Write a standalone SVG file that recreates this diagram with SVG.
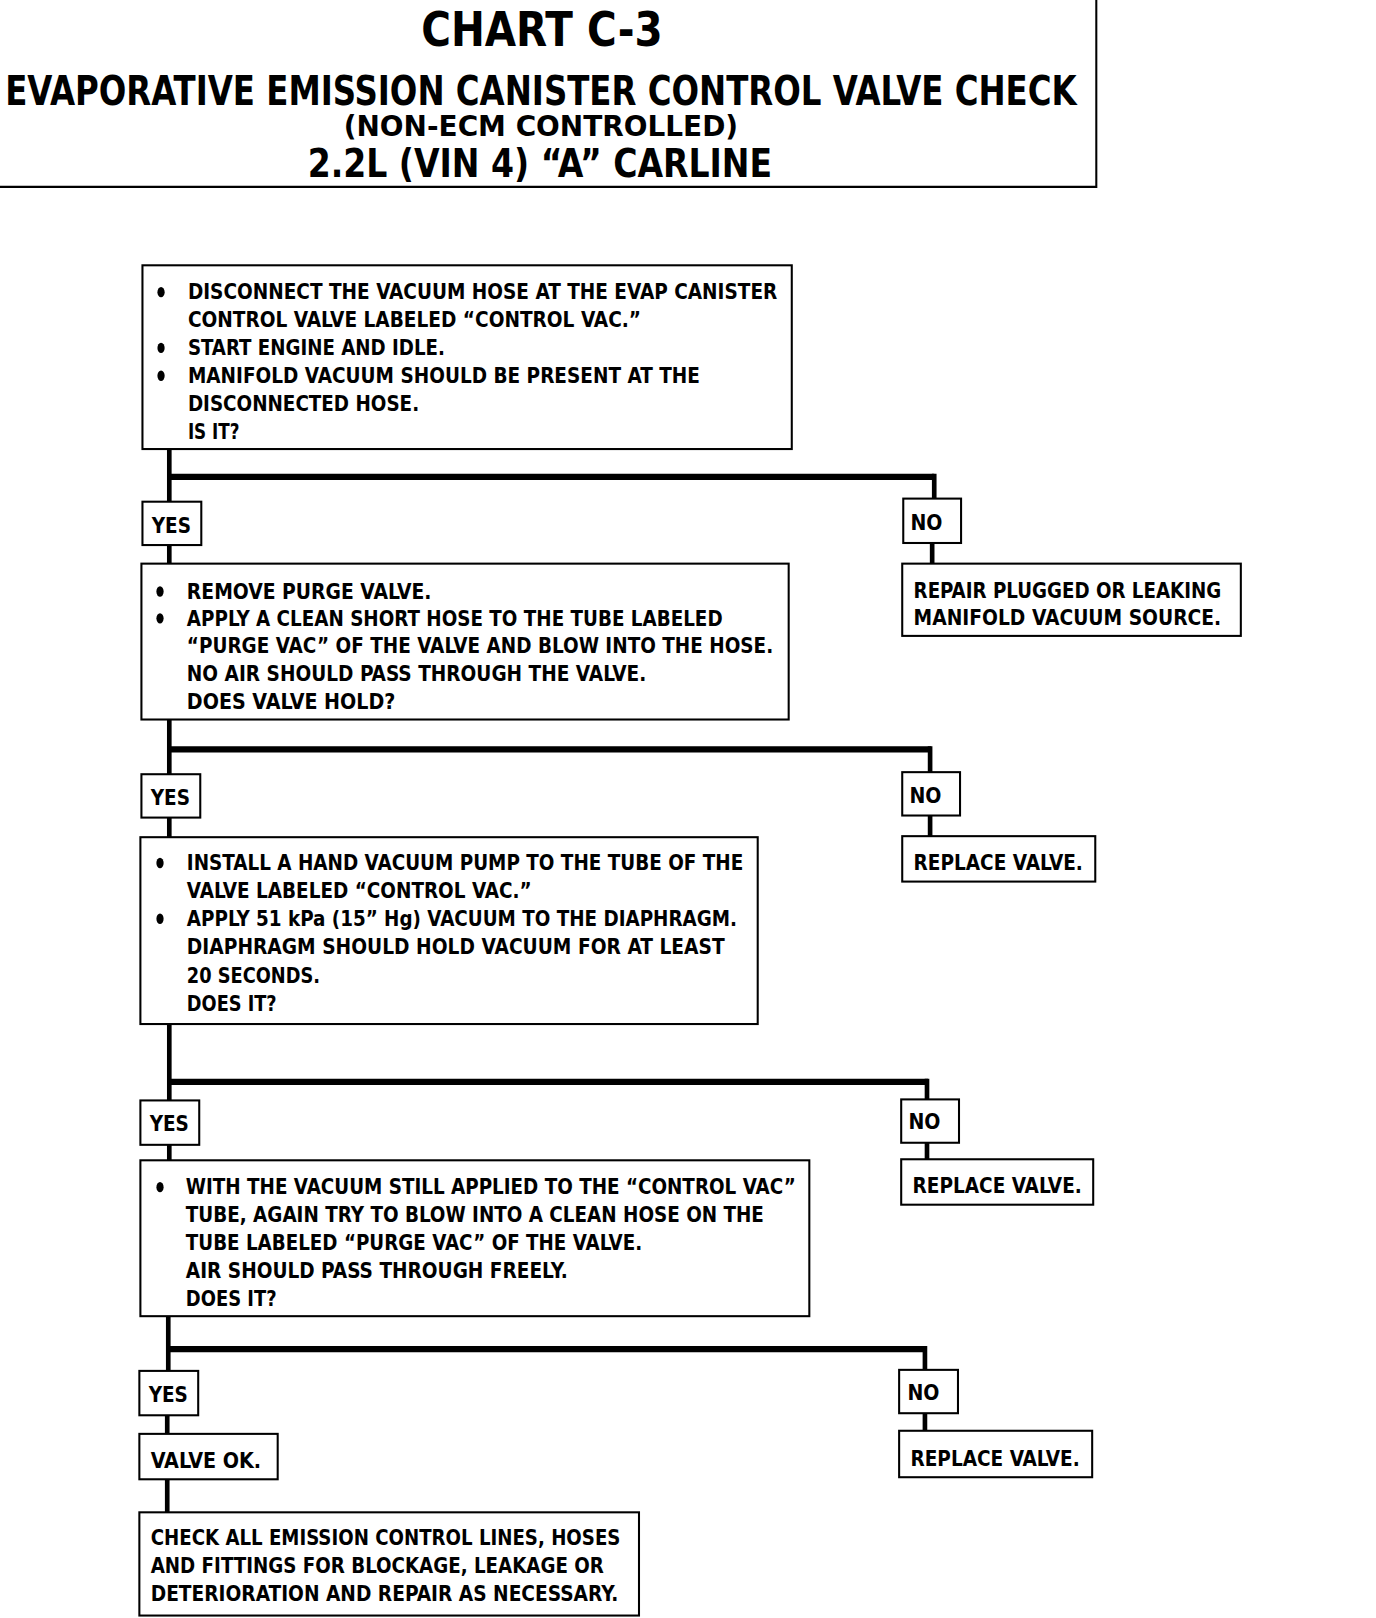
<svg xmlns="http://www.w3.org/2000/svg" width="1376" height="1618" viewBox="0 0 1376 1618">
<style>
.bg{fill:#fff}
.box{fill:#fff;stroke:#000;stroke-width:2}
.hdr{fill:none;stroke:#000;stroke-width:2}
.v{stroke:#000;stroke-width:4.5;fill:none}
.h{stroke:#000;stroke-width:6;fill:none}
text{font-family:"Liberation Sans Narrow","DejaVu Sans Condensed","Liberation Sans",sans-serif;font-weight:bold;fill:#000}
.t{font-size:21px}
.lab{font-size:21px}
.bul{fill:#000}
</style>
<rect class="bg" x="0" y="0" width="1376" height="1618"/>
<g transform="scale(1.0323)">
<g id="header">
<path class="hdr" d="M0 181 H1062 V0"/>
<text x="408" y="45" font-size="46" textLength="234" lengthAdjust="spacingAndGlyphs">CHART C-3</text>
<text x="5" y="102" font-size="39" textLength="1038" lengthAdjust="spacingAndGlyphs">EVAPORATIVE EMISSION CANISTER CONTROL VALVE CHECK</text>
<text x="333" y="132" font-size="27" textLength="382" lengthAdjust="spacingAndGlyphs">(NON-ECM CONTROLLED)</text>
<text x="298" y="171" font-size="38" textLength="450" lengthAdjust="spacingAndGlyphs">2.2L  (VIN 4)  “A”  CARLINE</text>
</g>
<g id="connectors">
<path class="v" d="M164 435 V486 M164 528 V546"/>
<path class="h" d="M164 462 H905"/>
<path class="v" d="M905 459 V483 M903 526 V546"/>
<path class="v" d="M164 697 V750 M164 792 V811"/>
<path class="h" d="M164 726 H902"/>
<path class="v" d="M901 723 V748 M901 790 V810"/>
<path class="v" d="M164 992 V1066 M164 1109 V1124"/>
<path class="h" d="M164 1048 H899"/>
<path class="v" d="M898 1045 V1065 M898 1107 V1123"/>
<path class="v" d="M163 1275 V1328 M162 1371 V1389 M162 1433 V1465"/>
<path class="h" d="M163 1307 H897"/>
<path class="v" d="M896 1304 V1327 M896 1369 V1386"/>
</g>
<g id="step1">
<rect class="box" x="138" y="257" width="629" height="178"/>
<ellipse class="bul" cx="156" cy="283" rx="3.5" ry="5"/>
<ellipse class="bul" cx="156" cy="337" rx="3.5" ry="5"/>
<ellipse class="bul" cx="156" cy="364" rx="3.5" ry="5"/>
<text class="t" x="182" y="290" textLength="571" lengthAdjust="spacingAndGlyphs">DISCONNECT THE VACUUM HOSE AT THE EVAP CANISTER</text>
<text class="t" x="182" y="317" textLength="439" lengthAdjust="spacingAndGlyphs">CONTROL VALVE LABELED “CONTROL VAC.”</text>
<text class="t" x="182" y="344" textLength="249" lengthAdjust="spacingAndGlyphs">START ENGINE AND IDLE.</text>
<text class="t" x="182" y="371" textLength="496" lengthAdjust="spacingAndGlyphs">MANIFOLD VACUUM SHOULD BE PRESENT AT THE</text>
<text class="t" x="182" y="398" textLength="224" lengthAdjust="spacingAndGlyphs">DISCONNECTED HOSE.</text>
<text class="t" x="182" y="425" textLength="50" lengthAdjust="spacingAndGlyphs">IS IT?</text>
</g>
<g id="yes1">
<rect class="box" x="138" y="486" width="57" height="42"/>
<text class="lab" x="147" y="516" textLength="38" lengthAdjust="spacingAndGlyphs">YES</text>
</g>
<g id="no1">
<rect class="box" x="875" y="483" width="56" height="43"/>
<text class="lab" x="882" y="513" textLength="31" lengthAdjust="spacingAndGlyphs">NO</text>
</g>
<g id="repair">
<rect class="box" x="874" y="546" width="328" height="70"/>
<text class="t" x="885" y="579" textLength="298" lengthAdjust="spacingAndGlyphs">REPAIR PLUGGED OR LEAKING</text>
<text class="t" x="885" y="605" textLength="298" lengthAdjust="spacingAndGlyphs">MANIFOLD VACUUM SOURCE.</text>
</g>
<g id="step2">
<rect class="box" x="137" y="546" width="627" height="151"/>
<ellipse class="bul" cx="155" cy="573" rx="3.5" ry="5"/>
<ellipse class="bul" cx="155" cy="599" rx="3.5" ry="5"/>
<text class="t" x="181" y="580" textLength="237" lengthAdjust="spacingAndGlyphs">REMOVE PURGE VALVE.</text>
<text class="t" x="181" y="606" textLength="519" lengthAdjust="spacingAndGlyphs">APPLY A CLEAN SHORT HOSE TO THE TUBE LABELED</text>
<text class="t" x="181" y="633" textLength="568" lengthAdjust="spacingAndGlyphs">“PURGE VAC” OF THE VALVE AND BLOW INTO THE HOSE.</text>
<text class="t" x="181" y="660" textLength="445" lengthAdjust="spacingAndGlyphs">NO AIR SHOULD PASS THROUGH THE VALVE.</text>
<text class="t" x="181" y="687" textLength="202" lengthAdjust="spacingAndGlyphs">DOES VALVE HOLD?</text>
</g>
<g id="yes2">
<rect class="box" x="137" y="750" width="57" height="42"/>
<text class="lab" x="146" y="780" textLength="38" lengthAdjust="spacingAndGlyphs">YES</text>
</g>
<g id="no2">
<rect class="box" x="874" y="748" width="56" height="42"/>
<text class="lab" x="881" y="778" textLength="31" lengthAdjust="spacingAndGlyphs">NO</text>
</g>
<g id="replace1">
<rect class="box" x="874" y="810" width="187" height="44"/>
<text class="t" x="885" y="843" textLength="164" lengthAdjust="spacingAndGlyphs">REPLACE VALVE.</text>
</g>
<g id="step3">
<rect class="box" x="136" y="811" width="598" height="181"/>
<ellipse class="bul" cx="155" cy="836" rx="3.5" ry="5"/>
<ellipse class="bul" cx="155" cy="890" rx="3.5" ry="5"/>
<text class="t" x="181" y="843" textLength="539" lengthAdjust="spacingAndGlyphs">INSTALL A HAND VACUUM PUMP TO THE TUBE OF THE</text>
<text class="t" x="181" y="870" textLength="334" lengthAdjust="spacingAndGlyphs">VALVE LABELED “CONTROL VAC.”</text>
<text class="t" x="181" y="897" textLength="533" lengthAdjust="spacingAndGlyphs">APPLY 51 kPa (15” Hg) VACUUM TO THE DIAPHRAGM.</text>
<text class="t" x="181" y="924" textLength="521" lengthAdjust="spacingAndGlyphs">DIAPHRAGM SHOULD HOLD VACUUM FOR AT LEAST</text>
<text class="t" x="181" y="952" textLength="129" lengthAdjust="spacingAndGlyphs">20 SECONDS.</text>
<text class="t" x="181" y="979" textLength="87" lengthAdjust="spacingAndGlyphs">DOES IT?</text>
</g>
<g id="yes3">
<rect class="box" x="136" y="1066" width="57" height="43"/>
<text class="lab" x="145" y="1096" textLength="38" lengthAdjust="spacingAndGlyphs">YES</text>
</g>
<g id="no3">
<rect class="box" x="873" y="1065" width="56" height="42"/>
<text class="lab" x="880" y="1094" textLength="31" lengthAdjust="spacingAndGlyphs">NO</text>
</g>
<g id="replace2">
<rect class="box" x="873" y="1123" width="186" height="44"/>
<text class="t" x="884" y="1156" textLength="164" lengthAdjust="spacingAndGlyphs">REPLACE VALVE.</text>
</g>
<g id="step4">
<rect class="box" x="136" y="1124" width="648" height="151"/>
<ellipse class="bul" cx="155" cy="1150" rx="3.5" ry="5"/>
<text class="t" x="180" y="1157" textLength="591" lengthAdjust="spacingAndGlyphs">WITH THE VACUUM STILL APPLIED TO THE “CONTROL VAC”</text>
<text class="t" x="180" y="1184" textLength="560" lengthAdjust="spacingAndGlyphs">TUBE, AGAIN TRY TO BLOW INTO A CLEAN HOSE ON THE</text>
<text class="t" x="180" y="1211" textLength="442" lengthAdjust="spacingAndGlyphs">TUBE LABELED “PURGE VAC” OF THE VALVE.</text>
<text class="t" x="180" y="1238" textLength="370" lengthAdjust="spacingAndGlyphs">AIR SHOULD PASS THROUGH FREELY.</text>
<text class="t" x="180" y="1265" textLength="88" lengthAdjust="spacingAndGlyphs">DOES IT?</text>
</g>
<g id="yes4">
<rect class="box" x="135" y="1328" width="57" height="43"/>
<text class="lab" x="144" y="1358" textLength="38" lengthAdjust="spacingAndGlyphs">YES</text>
</g>
<g id="no4">
<rect class="box" x="871" y="1327" width="57" height="42"/>
<text class="lab" x="879" y="1356" textLength="31" lengthAdjust="spacingAndGlyphs">NO</text>
</g>
<g id="valveok">
<rect class="box" x="135" y="1389" width="134" height="44"/>
<text class="t" x="146" y="1422" textLength="107" lengthAdjust="spacingAndGlyphs">VALVE OK.</text>
</g>
<g id="replace3">
<rect class="box" x="871" y="1386" width="187" height="45"/>
<text class="t" x="882" y="1420" textLength="164" lengthAdjust="spacingAndGlyphs">REPLACE VALVE.</text>
</g>
<g id="final">
<rect class="box" x="135" y="1465" width="484" height="100"/>
<text class="t" x="146" y="1497" textLength="455" lengthAdjust="spacingAndGlyphs">CHECK ALL EMISSION CONTROL LINES, HOSES</text>
<text class="t" x="146" y="1524" textLength="439" lengthAdjust="spacingAndGlyphs">AND FITTINGS FOR BLOCKAGE, LEAKAGE OR</text>
<text class="t" x="146" y="1551" textLength="453" lengthAdjust="spacingAndGlyphs">DETERIORATION AND REPAIR AS NECESSARY.</text>
</g>
</g>
</svg>
